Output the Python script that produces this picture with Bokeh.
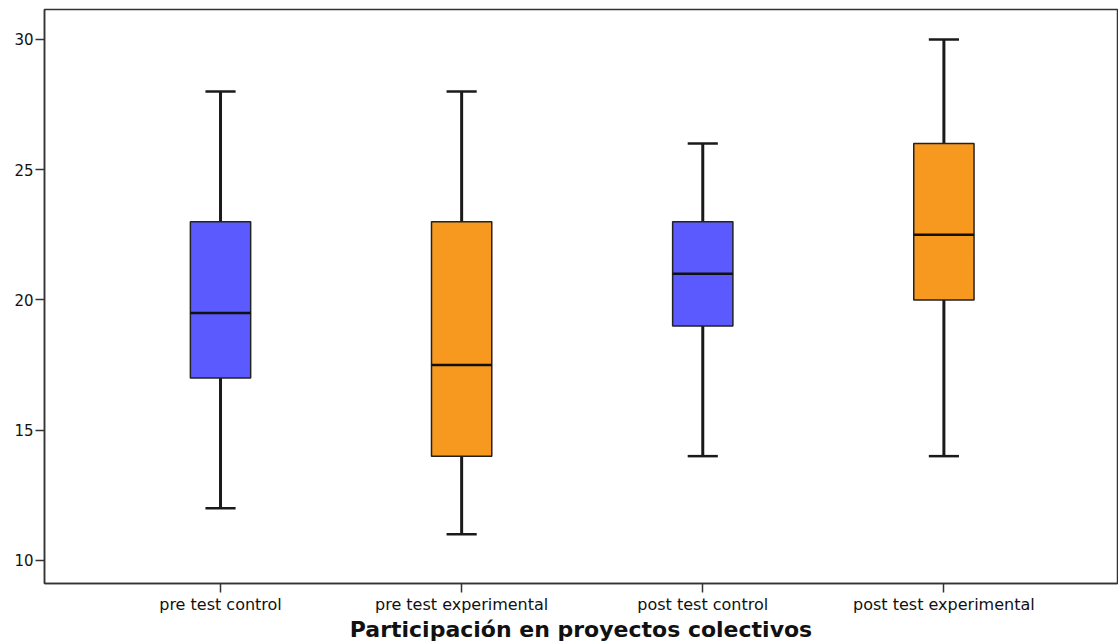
from bokeh.plotting import figure
from bokeh.models import Range1d, FixedTicker
from bokeh.embed import file_html
from bokeh.resources import INLINE

categories = ["pre test control", "pre test experimental", "post test control", "post test experimental"]
mins = [12, 11, 14, 14]
q1s = [17, 14, 19, 20]
medians = [19.5, 17.5, 21, 22.5]
q3s = [23, 23, 23, 26]
maxs = [28, 28, 26, 30]
colors = ["#5a5aff", "#f7991f", "#5a5aff", "#f7991f"]
y_ticks = [10, 15, 20, 25, 30]
x_title = "Participación en proyectos colectivos"

xs = list(range(1, len(categories) + 1))
box_w = 0.25
cap_w = 0.125

p = figure(width=1118, height=644, output_backend="svg", toolbar_location=None,
           x_range=Range1d(0.27, 4.72), y_range=Range1d(9.11, 31.15),
           min_border_top=9, min_border_left=44, min_border_right=1, min_border_bottom=0)
p.grid.visible = False
p.outline_line_color = "#333333"
p.outline_line_width = 1.5
p.background_fill_color = "white"

# whisker stems
p.segment(x0=xs, y0=mins, x1=xs, y1=q1s, line_color="#1a1a1a", line_width=3)
p.segment(x0=xs, y0=q3s, x1=xs, y1=maxs, line_color="#1a1a1a", line_width=3)
# caps
p.segment(x0=[x - cap_w / 2 for x in xs], y0=mins, x1=[x + cap_w / 2 for x in xs], y1=mins,
          line_color="#1a1a1a", line_width=2.5)
p.segment(x0=[x - cap_w / 2 for x in xs], y0=maxs, x1=[x + cap_w / 2 for x in xs], y1=maxs,
          line_color="#1a1a1a", line_width=2.5)
# boxes
p.vbar(x=xs, width=box_w, bottom=q1s, top=q3s, fill_color=colors,
       line_color="#222222", line_width=1.5)
# medians
p.segment(x0=[x - box_w / 2 for x in xs], y0=medians, x1=[x + box_w / 2 for x in xs], y1=medians,
          line_color="#111111", line_width=2.5)

p.xaxis.ticker = FixedTicker(ticks=xs)
p.xaxis.major_label_overrides = {x: c for x, c in zip(xs, categories)}
p.yaxis.ticker = FixedTicker(ticks=y_ticks)

for ax in (p.xaxis, p.yaxis):
    ax.axis_line_color = "#333333"
    ax.axis_line_width = 1.5
    ax.major_tick_line_color = "#333333"
    ax.major_tick_line_width = 1.5
    ax.major_tick_in = 0
    ax.major_tick_out = 9
    ax.minor_tick_line_color = None
    ax.major_label_text_font = "DejaVu Sans"
    ax.major_label_text_color = "#111111"

p.xaxis.major_label_text_font_size = "16px"
p.xaxis.major_label_standoff = 2
p.yaxis.major_label_text_font_size = "15px"
p.yaxis.major_label_standoff = 2

p.xaxis.axis_label = x_title
p.xaxis.axis_label_text_font = "DejaVu Sans"
p.xaxis.axis_label_text_font_style = "bold"
p.xaxis.axis_label_text_font_size = "22px"
p.xaxis.axis_label_text_color = "#111111"
p.xaxis.axis_label_standoff = 0

open("out.html", "w").write(file_html(p, INLINE))
